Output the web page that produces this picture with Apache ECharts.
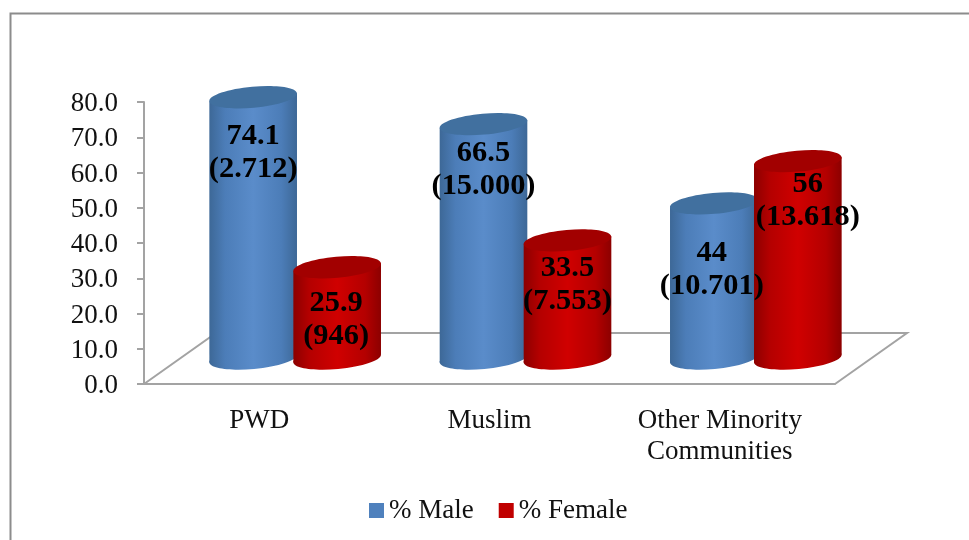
<!DOCTYPE html>
<html><head><meta charset="utf-8">
<style>html,body{margin:0;padding:0;background:#fff}#c{width:969px;height:540px}</style>
<script src="https://cdn.jsdelivr.net/npm/echarts@6/dist/echarts.min.js"></script>
</head><body><div id="c"></div>
<script>
const categories = ['PWD', 'Muslim', 'Other Minority\nCommunities'];
const maleValues = [74.1, 66.5, 44];
const femaleValues = [25.9, 33.5, 56];
const maleCounts = ['(2.712)', '(15.000)', '(10.701)'];
const femaleCounts = ['(946)', '(7.553)', '(13.618)'];
const yTicks = { min: 0, max: 80, interval: 10 };

// layout
const GRID = { left: 144, right: 134, top: 102, height: 282 };
const DEPTH = { x: 72, y: 51 };
const BAR = { rx: 44, ry: 10.5, tilt: 0.09, spread: 42 };
const AXIS_GRAY = '#a3a3a3';
const SERIF = '"Liberation Serif", serif';
// where each value label sits below its cylinder top: [dx, dy]
const maleLabelNudge = [[0, 56], [0, 46], [-2, 67]];
const femaleLabelNudge = [[-1, 53], [0, 45], [10, 40]];

const BLUE = { edge: '#3d6897', side: '#4c7db8', mid: '#5a8cca', cap: '#41709f' };
const RED = { edge: '#8c0000', side: '#b40000', mid: '#d00000', cap: '#a20000' };

function sideGrad(p) {
  return new echarts.graphic.LinearGradient(0, 0, 1, 0, [
    { offset: 0, color: p.edge }, { offset: 0.18, color: p.side }, { offset: 0.5, color: p.mid },
    { offset: 0.82, color: p.side }, { offset: 1, color: p.edge }
  ]);
}
function cylinder(palette, sign) {
  return function (params, api) {
    const idx = api.value(0), val = api.value(1);
    const top = api.coord([idx, val]);
    const base = api.coord([idx, 0]);
    const cx = top[0] + DEPTH.x / 2 + sign * BAR.spread;
    const yT = top[1] - DEPTH.y / 2, yB = base[1] - DEPTH.y / 2;
    const ex = BAR.rx * Math.cos(BAR.tilt), ey = BAR.rx * Math.sin(BAR.tilt);
    const ell = (y, fill) => ({
      type: 'ellipse', x: cx, y: y, rotation: BAR.tilt,
      shape: { cx: 0, cy: 0, rx: BAR.rx, ry: BAR.ry }, style: { fill: fill }
    });
    return { type: 'group', children: [
      ell(yB, sideGrad(palette)),
      { type: 'polygon',
        shape: { points: [[cx - ex, yT + ey], [cx + ex, yT - ey], [cx + ex, yB - ey], [cx - ex, yB + ey]] },
        style: { fill: sideGrad(palette) } },
      ell(yT, palette.cap)
    ] };
  };
}
function labels(values, counts, nudge, sign) {
  return function (params, api) {
    const i = api.value(0), top = api.coord([i, api.value(1)]);
    return { type: 'text', x: top[0] + DEPTH.x / 2 + sign * BAR.spread + nudge[i][0],
      y: top[1] - DEPTH.y / 2 + nudge[i][1], scaleX: 1.05,
      style: { text: values[i] + '\n' + counts[i], fill: '#000', align: 'center', verticalAlign: 'middle',
        font: 'bold 29px ' + SERIF, lineHeight: 33 } };
  };
}
function floor(params, api) {
  const c = params.coordSys, b = c.y + c.height, l = c.x, r = c.x + c.width;
  const st = { fill: 'none', stroke: AXIS_GRAY, lineWidth: 2 };
  return { type: 'polyline', shape: { points: [[l, b], [l + DEPTH.x, b - DEPTH.y], [r + DEPTH.x, b - DEPTH.y], [r, b]] }, style: st };
}
const pairs = v => v.map((x, i) => [i, x]);
const enc = { x: 0, y: 1 };
const chart = echarts.init(document.getElementById('c'));
chart.setOption({
  animation: false, backgroundColor: '#fff',
  graphic: [{ type: 'rect', left: 8, top: 11, silent: true,
    shape: { width: 1000, height: 560 }, style: { fill: 'none', stroke: '#8c8c8c', lineWidth: 2 } }],
  grid: GRID,
  legend: { left: 364, top: 492, icon: 'rect', itemWidth: 15, itemHeight: 15, itemGap: 25,
    data: ['% Male', '% Female'], textStyle: { fontFamily: SERIF, fontSize: 27, color: '#111' } },
  xAxis: { type: 'category', data: categories,
    axisLine: { lineStyle: { color: AXIS_GRAY, width: 2 } },
    axisTick: { length: 8, lineStyle: { color: AXIS_GRAY, width: 2 } },
    axisLabel: { fontFamily: SERIF, fontSize: 27, color: '#111', margin: 21, lineHeight: 31, interval: 0 } },
  yAxis: { type: 'value', min: yTicks.min, max: yTicks.max, interval: yTicks.interval,
    splitLine: { show: false },
    axisLine: { show: true, lineStyle: { color: AXIS_GRAY, width: 2 } },
    axisTick: { show: true, length: 7, lineStyle: { color: AXIS_GRAY, width: 2 } },
    axisLabel: { fontFamily: SERIF, fontSize: 27, color: '#111', margin: 26, verticalAlign: 'top', lineHeight: 4, formatter: v => v.toFixed(1) } },
  series: [
    { type: 'custom', name: 'floor', z: 1, silent: true, renderItem: floor, data: [[0, 0]], encode: enc },
    { type: 'custom', name: '% Male', z: 2, itemStyle: { color: '#4f81bd' }, renderItem: cylinder(BLUE, -1), data: pairs(maleValues), encode: enc },
    { type: 'custom', name: '% Female', z: 3, itemStyle: { color: '#c00000' }, renderItem: cylinder(RED, 1), data: pairs(femaleValues), encode: enc },
    { type: 'custom', name: 'maleLabels', z: 4, renderItem: labels(maleValues, maleCounts, maleLabelNudge, -1), data: pairs(maleValues), encode: enc },
    { type: 'custom', name: 'femaleLabels', z: 4, renderItem: labels(femaleValues, femaleCounts, femaleLabelNudge, 1), data: pairs(femaleValues), encode: enc }
  ]
});
</script></body></html>
